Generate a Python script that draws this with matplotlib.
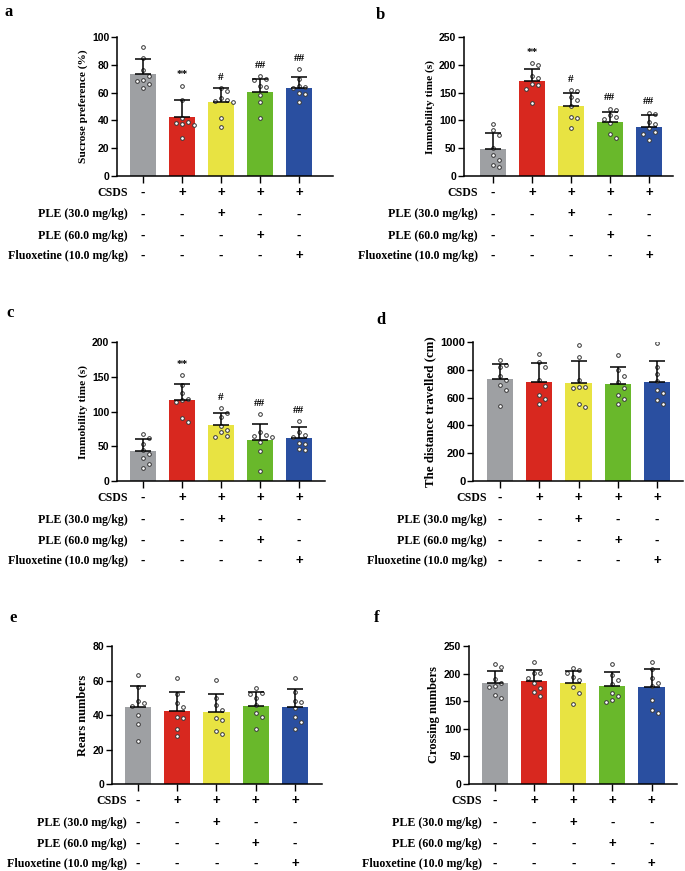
import matplotlib
matplotlib.use("Agg")
import matplotlib.pyplot as plt
import numpy as np

# group colours (CON, CSDS, PLE30, PLE60, Fluoxetine)
colors = ['#9EA0A3', '#D8281F', '#E8E342', '#69B82B', '#2A4FA0']
row_labels = ['CSDS', 'PLE (30.0 mg/kg)', 'PLE (60.0 mg/kg)', 'Fluoxetine (10.0 mg/kg)']
row_signs = [['-', '+', '+', '+', '+'],
             ['-', '-', '+', '-', '-'],
             ['-', '-', '-', '+', '-'],
             ['-', '-', '-', '-', '+']]

# a: sucrose preference
a_mean = [73.6, 42.4, 53.2, 60.4, 63.5]
a_sd = [10.6, 12.0, 10.1, 9.6, 7.7]
a_pts = [[93, 85, 76, 72, 69, 68, 66, 63],
         [65, 55, 42, 39, 38, 37.6, 37, 27],
         [63, 61, 56, 55, 54, 53, 42, 35],
         [72, 70, 69, 65, 64, 58, 53, 42],
         [77, 70, 65, 64, 63, 60, 59, 53]]
a_sig = ['', '**', '#', '##', '##']

# b: immobility time (FST)
b_mean = [48, 170, 125, 97, 89]
b_sd = [30, 23, 24, 19, 20]
b_pts = [[93, 82, 74, 50, 38, 28, 20, 16],
         [203, 200, 179, 176, 166, 163, 157, 132],
         [155, 153, 142, 137, 125, 106, 105, 86],
         [121, 118, 110, 106, 102, 96, 75, 68],
         [114, 112, 97, 94, 86, 79, 76, 64]]
b_sig = ['', '**', '#', '##', '##']

# c: immobility time (TST)
c_mean = [43, 116, 81, 58.5, 62]
c_sd = [18, 23, 17, 23, 15]
c_pts = [[67, 62, 53, 44, 39, 33, 25, 19],
         [152, 138, 126, 118, 117, 114, 90, 85],
         [105, 98, 92, 79, 74, 70, 65, 64],
         [96, 70, 66, 65, 63, 56, 43, 14],
         [86, 71, 66, 63, 55, 53, 46, 44]]
c_sig = ['', '**', '#', '##', '##']

# d: distance travelled
d_mean = [731, 712, 707, 700, 712]
d_sd = [108, 139, 156, 120, 151]
d_pts = [[873, 832, 820, 753, 729, 688, 657, 537],
         [911, 856, 820, 724, 681, 616, 592, 552],
         [976, 892, 724, 676, 676, 669, 552, 532],
         [904, 796, 753, 712, 671, 616, 588, 556],
         [993, 820, 767, 717, 652, 633, 580, 556]]

# e: rears
e_mean = [44.9, 42.6, 41.6, 45.5, 44.9]
e_sd = [11.9, 11.0, 10.6, 8.1, 10.0]
e_pts = [[63.2, 56, 48.2, 46.8, 45.3, 40, 34.9, 25],
         [61.3, 52.2, 47.2, 44.9, 39.1, 38.2, 32, 28.1],
         [60.3, 49.7, 45.9, 43, 38.2, 37.2, 31, 29.1],
         [55.5, 52.6, 52.2, 50.1, 45.9, 41, 39.1, 32],
         [61.3, 53.6, 48.4, 47.8, 43.9, 39.1, 35.8, 32]]

# f: crossings
f_mean = [183.7, 186.7, 183.7, 177.1, 175.3]
f_sd = [21.7, 19.9, 21.7, 25.3, 33.1]
f_pts = [[216.9, 212.7, 190.4, 182.5, 177.7, 176.5, 161.4, 155.4],
         [221.7, 201.8, 200.6, 191.6, 183.7, 173.5, 167.5, 160.2],
         [210.8, 206.6, 200.6, 194.6, 188.6, 176.5, 165.7, 144.6],
         [217.5, 197.6, 188.6, 180.7, 164.5, 159.6, 152.4, 149.4],
         [221.7, 208, 191.6, 182.5, 177.7, 152.4, 134.3, 128.3]]

W, H = 685, 871
SANS = 'Liberation Sans'
SERIF = 'Liberation Serif'


def swarm(vals, px_per_y, px_per_x, d=6.0):
    # simple deterministic beeswarm in pixel space
    order = np.argsort(vals)[::-1]
    placed = []
    offs = np.zeros(len(vals))
    for i in order:
        y = vals[i] * px_per_y
        for k in [0, 1, -1, 2, -2, 3, -3]:
            x = k * d
            if all((x - px) ** 2 + (y - py) ** 2 >= d * d for px, py in placed):
                break
        placed.append((x, y))
        offs[i] = x / px_per_x
    return offs


def panel(letter, box, xlim, ymax, ystep, ylabel, mean, sd, pts, sig, lpos, gap,
          ylsize=8.2, ticksize=7.5):
    left, right, top, bottom = box
    ax = fig.add_axes([left / W, 1 - bottom / H, (right - left) / W, (bottom - top) / H])
    x = np.arange(5)
    ax.bar(x, mean, width=0.67, color=colors, zorder=1)
    px_per_y = (bottom - top) / ymax
    px_per_x = (right - left) / (xlim[1] - xlim[0])
    for i in range(5):
        v = np.array(pts[i], dtype=float)
        xs = i + swarm(v, px_per_y, px_per_x)
        ax.scatter(xs, v, s=7, facecolor='white', edgecolor='#333333',
                   linewidth=0.7, zorder=3)
    ax.errorbar(x, mean, yerr=[np.zeros(5), sd], fmt='none', ecolor='black',
                elinewidth=1.1, capsize=6, capthick=1.1, zorder=4)
    if sig:
        for i, s in enumerate(sig):
            if s:
                ax.text(i, max(pts[i]) + ymax * 0.045, s, ha='center', va='bottom',
                        fontsize=8, fontweight='bold', family=SERIF, zorder=5)
    ax.set_xlim(*xlim)
    ax.set_ylim(0, ymax)
    ax.set_yticks(np.arange(0, ymax + 1, ystep))
    ax.set_xticks(x)
    ax.set_xticklabels([])
    ax.tick_params(axis='x', length=5, width=1, direction='out')
    ax.tick_params(axis='y', length=4, width=1, direction='out', pad=1.5)
    for lab in ax.get_yticklabels():
        lab.set_fontfamily(SANS)
        lab.set_fontweight('bold')
        lab.set_fontsize(ticksize)
    for s in ['top', 'right']:
        ax.spines[s].set_visible(False)
    for s in ['left', 'bottom']:
        ax.spines[s].set_linewidth(1.1)
    ax.set_ylabel(ylabel, fontsize=ylsize, fontweight='bold', family=SERIF, labelpad=3)
    # treatment table under the axis
    offsets = [17, 38.5, 60, 80]
    for r, (lab, signs) in enumerate(zip(row_labels, row_signs)):
        dy = -offsets[r] * 0.72
        ax.annotate(lab, xy=(0, 0), xycoords=('data', 'axes fraction'),
                    xytext=(-gap * 0.72, dy), textcoords='offset points', ha='right',
                    va='center', fontsize=8.6, fontweight='bold', family=SERIF,
                    annotation_clip=False)
        for i, sg in enumerate(signs):
            ax.annotate(sg, xy=(i, 0), xycoords=('data', 'axes fraction'),
                        xytext=(0, dy), textcoords='offset points', ha='center', va='center',
                        fontsize=9.5, fontweight='bold', family=SANS, annotation_clip=False)
    fig.text(lpos[0] / W, 1 - lpos[1] / H, letter, fontsize=12, fontweight='bold',
             family=SERIF, ha='center', va='center')
    return ax


fig = plt.figure(figsize=(W / 100, H / 100), dpi=100)

panel('a', (117, 333, 37, 176), (-0.67, 4.87), 100, 20, 'Sucrose preference (%)',
      a_mean, a_sd, a_pts, a_sig, (9, 12), 15)
panel('b', (464, 673, 37, 176), (-0.74, 4.62), 250, 50, 'Immobility time (s)',
      b_mean, b_sd, b_pts, b_sig, (380, 15), 15)
panel('c', (117, 325, 342, 481), (-0.67, 4.67), 200, 50, 'Immobility time (s)',
      c_mean, c_sd, c_pts, c_sig, (10, 313), 15)
panel('d', (473, 683, 342, 481), (-0.69, 4.66), 1000, 200, 'The distance travelled (cm)',
      d_mean, d_sd, d_pts, None, (381, 320), 13, ylsize=9.3, ticksize=8)
panel('e', (112, 322, 646, 784), (-0.66, 4.69), 80, 20, 'Rears numbers',
      e_mean, e_sd, e_pts, None, (13, 618), 11, ylsize=9)
panel('f', (469, 677, 646, 784), (-0.66, 4.65), 250, 50, 'Crossing numbers',
      f_mean, f_sd, f_pts, None, (377, 618), 13, ylsize=9)

fig.savefig('out.png', dpi=100)
